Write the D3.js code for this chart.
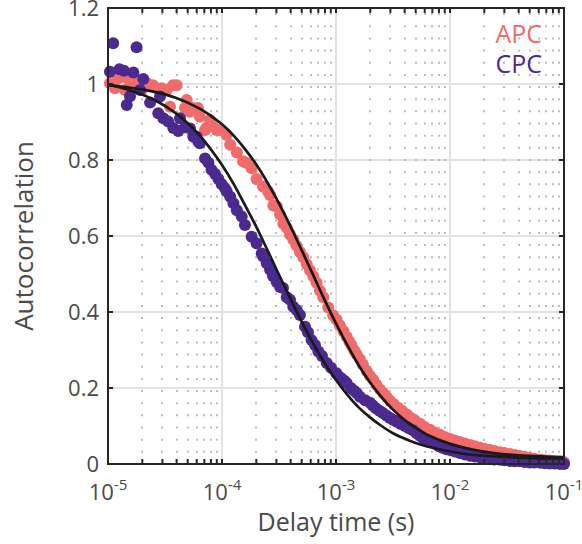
<!DOCTYPE html>
<html>
<head>
<meta charset="UTF-8">
<title>Autocorrelation</title>
<style>
  body { margin: 0; background: #fff; }
  svg { display: block; }
</style>
</head>
<body>
<div id="chart"></div>
<script src="https://cdn.jsdelivr.net/npm/d3@7/dist/d3.min.js"></script>
<script>
// axis ticks
var xTicks = [1e-5, 1e-4, 1e-3, 1e-2, 1e-1];
var xTickExp = ["-5", "-4", "-3", "-2", "-1"];
var yTicks = [0, 0.2, 0.4, 0.6, 0.8, 1, 1.2];
var yTickLabels = ["0", "0.2", "0.4", "0.6", "0.8", "1", "1.2"];
var seriesNames = ["APC", "CPC"];
var seriesColors = ["#f26b6b", "#4b2a8f"];

// APC measured points (delay in s, G)
var apcTau = [1.04e-5, 1.15e-5, 1.22e-5, 1.41e-5, 1.46e-5, 1.56e-5, 1.83e-5, 1.92e-5, 1.98e-5, 2.19e-5,
  2.48e-5, 2.67e-5, 2.96e-5, 3.27e-5, 3.50e-5, 3.72e-5, 4.0e-5, 4.73e-5, 4.9e-5, 5.2e-5,
  5.56e-5, 6.15e-5, 6.4e-5, 7.1e-5, 7.3e-5, 7.85e-5, 8.35e-5, 9.0e-5, 9.6e-5,
  1.1e-4, 1.18e-4, 1.35e-4, 1.53e-4, 1.65e-4, 1.82e-4, 2.01e-4, 2.29e-4, 2.53e-4, 2.64e-4,
  2.82e-4, 3.02e-4, 3.23e-4, 3.45e-4, 3.7e-4, 3.95e-4, 4.22e-4, 4.52e-4, 4.83e-4, 5.17e-4,
  5.53e-4, 5.91e-4, 6.32e-4, 6.76e-4, 7.23e-4, 7.74e-4, 8.55e-4, 9.45e-4,
  1.01e-3, 1.08e-3, 1.16e-3, 1.24e-3, 1.31e-3, 1.37e-3, 1.45e-3, 1.52e-3, 1.62e-3, 1.72e-3,
  1.86e-3, 1.98e-3, 2.12e-3, 2.27e-3, 2.43e-3, 2.6e-3, 2.79e-3, 2.98e-3, 3.2e-3, 3.5e-3,
  3.8e-3, 4.17e-3, 4.5e-3, 4.9e-3, 5.46e-3, 5.9e-3, 6.67e-3, 7.3e-3, 8.17e-3, 9.0e-3,
  1e-2, 1.1e-2, 1.22e-2, 1.35e-2, 1.5e-2, 1.65e-2, 1.83e-2, 2.0e-2, 2.24e-2, 2.45e-2,
  2.75e-2, 3.0e-2, 3.36e-2, 3.7e-2, 4.1e-2, 4.5e-2, 5.0e-2, 5.5e-2, 6.2e-2, 6.8e-2,
  7.5e-2, 8.3e-2, 9.2e-2, 1e-1];
var apcG = [1.002, 0.989, 1.014, 0.984, 1.016, 0.992, 1.006, 1.010, 0.984, 1.002,
  0.997, 0.989, 0.989, 0.984, 0.940, 0.997, 0.997, 0.937, 0.958, 0.927,
  0.937, 0.937, 0.914, 0.879, 0.884, 0.905, 0.888, 0.879, 0.879,
  0.866, 0.840, 0.820, 0.797, 0.792, 0.778, 0.750, 0.730, 0.718, 0.708,
  0.680, 0.678, 0.656, 0.632, 0.622, 0.604, 0.591, 0.574, 0.558, 0.544,
  0.526, 0.510, 0.494, 0.477, 0.456, 0.439, 0.412, 0.391,
  0.380, 0.365, 0.350, 0.335, 0.322, 0.312, 0.298, 0.288, 0.276, 0.262,
  0.245, 0.232, 0.222, 0.208, 0.196, 0.186, 0.176, 0.166, 0.158, 0.148,
  0.140, 0.130, 0.122, 0.115, 0.106, 0.099, 0.090, 0.083, 0.077, 0.071,
  0.066, 0.062, 0.058, 0.054, 0.050, 0.047, 0.043, 0.040, 0.037, 0.034,
  0.031, 0.029, 0.026, 0.024, 0.021, 0.019, 0.016, 0.014, 0.012, 0.010,
  0.009, 0.007, 0.006, 0.005];

// CPC measured points
var cpcTau = [1.04e-5, 1.11e-5, 1.26e-5, 1.38e-5, 1.46e-5, 1.56e-5, 1.67e-5, 1.78e-5, 1.91e-5, 2.04e-5,
  2.34e-5, 2.76e-5, 2.86e-5, 3.06e-5, 3.38e-5, 3.74e-5, 4.14e-5, 4.28e-5, 4.73e-5, 5.24e-5,
  5.6e-5, 6.0e-5, 6.2e-5, 6.4e-5, 7.1e-5, 7.6e-5, 8.1e-5, 8.7e-5, 9.3e-5, 9.95e-5,
  1.06e-4, 1.1e-4, 1.18e-4, 1.26e-4, 1.35e-4, 1.49e-4, 1.59e-4, 1.82e-4, 2.01e-4, 2.23e-4,
  2.3e-4, 2.47e-4, 2.64e-4, 2.8e-4, 3.02e-4, 3.23e-4, 3.43e-4, 3.7e-4, 3.95e-4, 4.22e-4,
  4.52e-4, 4.83e-4, 5.35e-4, 5.68e-4, 6.1e-4, 6.54e-4, 7.0e-4, 7.54e-4, 8.3e-4, 9.05e-4,
  1.01e-3, 1.11e-3, 1.18e-3, 1.24e-3, 1.35e-3, 1.44e-3, 1.52e-3, 1.62e-3, 1.8e-3, 1.99e-3,
  2.1e-3, 2.24e-3, 2.4e-3, 2.58e-3, 2.78e-3, 2.98e-3, 3.2e-3, 3.41e-3, 3.7e-3, 4.03e-3,
  4.35e-3, 4.73e-3, 5.1e-3, 5.46e-3, 5.85e-3, 6.25e-3, 6.8e-3, 7.4e-3, 8.0e-3, 8.7e-3,
  9.3e-3, 1e-2, 1.1e-2, 1.22e-2, 1.35e-2, 1.5e-2, 1.65e-2, 1.83e-2, 2.0e-2, 2.24e-2,
  2.45e-2, 2.75e-2, 3.0e-2, 3.36e-2, 3.7e-2, 4.1e-2, 4.5e-2, 5.0e-2, 5.5e-2, 6.2e-2,
  6.8e-2, 7.5e-2, 8.3e-2, 9.2e-2, 1e-1];
var cpcG = [1.032, 1.107, 1.039, 1.035, 0.945, 0.968, 1.030, 1.097, 0.984, 1.013,
  0.951, 0.923, 0.967, 0.910, 0.901, 0.884, 0.876, 0.910, 0.886, 0.883,
  0.861, 0.861, 0.848, 0.844, 0.804, 0.793, 0.774, 0.763, 0.750, 0.736,
  0.726, 0.717, 0.703, 0.686, 0.668, 0.651, 0.629, 0.598, 0.581, 0.554,
  0.546, 0.528, 0.511, 0.495, 0.479, 0.466, 0.463, 0.439, 0.432, 0.414,
  0.405, 0.392, 0.361, 0.347, 0.326, 0.313, 0.296, 0.284, 0.266, 0.253,
  0.239, 0.226, 0.219, 0.213, 0.200, 0.193, 0.187, 0.177, 0.168, 0.161,
  0.154, 0.147, 0.140, 0.134, 0.127, 0.121, 0.116, 0.111, 0.105, 0.100,
  0.094, 0.089, 0.081, 0.074, 0.068, 0.063, 0.058, 0.053, 0.047, 0.042,
  0.039, 0.037, 0.033, 0.029, 0.025, 0.022, 0.020, 0.018, 0.016, 0.014,
  0.012, 0.011, 0.010, 0.008, 0.007, 0.007, 0.005, 0.004, 0.004, 0.003,
  0.002, 0.001, 0.001, 0.000, 0.000];

// fitted curves
var fitTau = [1e-5, 1.58e-5, 2.51e-5, 3.98e-5, 6.31e-5, 7.94e-5, 1e-4, 1.26e-4, 1.58e-4, 2.0e-4,
  2.51e-4, 3.16e-4, 3.98e-4, 5.01e-4, 6.31e-4, 7.94e-4, 1e-3, 1.26e-3, 1.58e-3, 2.0e-3,
  2.51e-3, 3.16e-3, 3.98e-3, 5.01e-3, 6.31e-3, 1e-2, 1.58e-2, 2.51e-2, 3.98e-2, 6.31e-2, 1e-1];
var apcFitG = [0.997, 0.990, 0.980, 0.963, 0.936, 0.917, 0.894, 0.865, 0.830, 0.788,
  0.740, 0.686, 0.626, 0.562, 0.497, 0.432, 0.370, 0.312, 0.260, 0.214,
  0.176, 0.143, 0.116, 0.095, 0.077, 0.053, 0.038, 0.028, 0.023, 0.020, 0.018];
var cpcFitG = [0.998, 0.983, 0.959, 0.922, 0.866, 0.829, 0.787, 0.738, 0.683, 0.624,
  0.562, 0.498, 0.435, 0.374, 0.317, 0.266, 0.221, 0.182, 0.149, 0.122,
  0.100, 0.081, 0.067, 0.055, 0.046, 0.033, 0.024, 0.020, 0.017, 0.015, 0.014];

var width = 582, height = 544;
var margin = { left: 108, top: 8, right: 18, bottom: 80 };
var pw = width - margin.left - margin.right;
var ph = height - margin.top - margin.bottom;
var textColor = "#4a4a4a";
var font = "'Open Sans', 'DejaVu Sans', sans-serif";

var svg = d3.select("#chart").append("svg")
  .attr("width", width)
  .attr("height", height)
  .style("font-family", font);

var x = d3.scaleLog().domain([1e-5, 1e-1]).range([0, pw]);
var y = d3.scaleLinear().domain([0, 1.2]).range([ph, 0]);

var g = svg.append("g").attr("transform", "translate(" + margin.left + "," + margin.top + ")");

// minor x values: 2..9 in each decade
var minorX = [];
xTicks.slice(0, -1).forEach(function (d) {
  for (var k = 2; k <= 9; k++) minorX.push(d * k);
});

// major grid
g.append("g").selectAll("line").data(xTicks.slice(1, -1)).enter().append("line")
  .attr("x1", function (d) { return x(d); }).attr("x2", function (d) { return x(d); })
  .attr("y1", 0).attr("y2", ph)
  .attr("stroke", "#e2e2e2").attr("stroke-width", 2);
g.append("g").selectAll("line").data(yTicks.slice(1, -1)).enter().append("line")
  .attr("x1", 0).attr("x2", pw)
  .attr("y1", function (d) { return y(d); }).attr("y2", function (d) { return y(d); })
  .attr("stroke", "#e2e2e2").attr("stroke-width", 2);

// minor grid, dotted
g.append("g").selectAll("line").data(minorX).enter().append("line")
  .attr("x1", function (d) { return Math.round(x(d)); }).attr("x2", function (d) { return Math.round(x(d)); })
  .attr("y1", ph).attr("y2", 0)
  .attr("stroke", "#bdbdbd").attr("stroke-width", 2)
  .attr("stroke-dasharray", "2,10.16").attr("stroke-dashoffset", 1);

// scatter
var series = [
  { tau: apcTau, g: apcG, color: seriesColors[0] },
  { tau: cpcTau, g: cpcG, color: seriesColors[1] }
];
series.forEach(function (s) {
  g.append("g").selectAll("circle").data(s.tau).enter().append("circle")
    .attr("cx", function (d) { return x(d); })
    .attr("cy", function (d, i) { return y(s.g[i]); })
    .attr("r", 6)
    .attr("fill", s.color);
});

// fit lines
var line = d3.line()
  .x(function (d) { return x(d[0]); })
  .y(function (d) { return y(d[1]); })
  .curve(d3.curveCatmullRom);
[apcFitG, cpcFitG].forEach(function (fg) {
  g.append("path")
    .datum(fitTau.map(function (t, i) { return [t, fg[i]]; }))
    .attr("d", line)
    .attr("fill", "none")
    .attr("stroke", "#1a1a1a")
    .attr("stroke-width", 2.7);
});

// axes box
var axisColor = "#262626";
g.append("rect").attr("x", 0).attr("y", 0).attr("width", pw).attr("height", ph)
  .attr("fill", "none").attr("stroke", axisColor).attr("stroke-width", 2);

// ticks (inward), top and bottom
var tickLen = 5;
var allX = xTicks.concat(minorX);
g.append("g").selectAll("line").data(allX).enter().append("line")
  .attr("x1", function (d) { return x(d); }).attr("x2", function (d) { return x(d); })
  .attr("y1", ph).attr("y2", ph - tickLen)
  .attr("stroke", axisColor).attr("stroke-width", 2);
g.append("g").selectAll("line").data(allX).enter().append("line")
  .attr("x1", function (d) { return x(d); }).attr("x2", function (d) { return x(d); })
  .attr("y1", 0).attr("y2", tickLen)
  .attr("stroke", axisColor).attr("stroke-width", 2);
g.append("g").selectAll("line").data(yTicks).enter().append("line")
  .attr("x1", 0).attr("x2", tickLen)
  .attr("y1", function (d) { return y(d); }).attr("y2", function (d) { return y(d); })
  .attr("stroke", axisColor).attr("stroke-width", 2);
g.append("g").selectAll("line").data(yTicks).enter().append("line")
  .attr("x1", pw).attr("x2", pw - tickLen)
  .attr("y1", function (d) { return y(d); }).attr("y2", function (d) { return y(d); })
  .attr("stroke", axisColor).attr("stroke-width", 2);

// y tick labels
g.append("g").selectAll("text").data(yTicks).enter().append("text")
  .attr("x", -9)
  .attr("y", function (d) { return y(d); })
  .attr("dy", "0.36em")
  .attr("text-anchor", "end")
  .attr("font-size", 22)
  .attr("fill", textColor)
  .text(function (d, i) { return yTickLabels[i]; });

// x tick labels with superscript exponent
var xl = g.append("g").selectAll("text").data(xTicks).enter().append("text")
  .attr("x", function (d) { return x(d); })
  .attr("y", ph + 36)
  .attr("text-anchor", "middle")
  .attr("font-size", 22)
  .attr("fill", textColor);
xl.append("tspan").text("10");
xl.append("tspan").attr("dy", -10).attr("font-size", 15)
  .text(function (d, i) { return xTickExp[i]; });

// axis titles
svg.append("text")
  .attr("x", margin.left + pw / 2)
  .attr("y", 531)
  .attr("text-anchor", "middle")
  .attr("font-size", 25)
  .attr("fill", textColor)
  .text("Delay time (s)");
svg.append("text")
  .attr("transform", "translate(" + 33 + "," + (margin.top + ph / 2) + ") rotate(-90)")
  .attr("text-anchor", "middle")
  .attr("font-size", 26)
  .attr("fill", textColor)
  .text("Autocorrelation");

// legend
var legend = g.append("g");
seriesNames.forEach(function (name, i) {
  legend.append("text")
    .attr("x", pw - 22)
    .attr("y", 35 + i * 30)
    .attr("text-anchor", "end")
    .attr("font-size", 25)
    .attr("fill", seriesColors[i])
    .text(name);
});
</script>
</body>
</html>
